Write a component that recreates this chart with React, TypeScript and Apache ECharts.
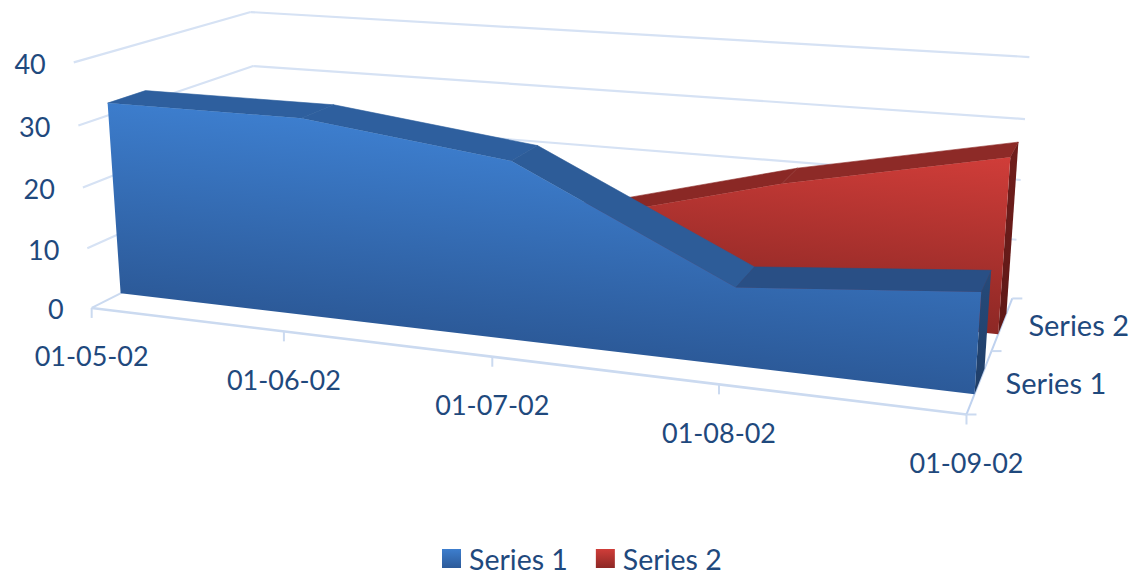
import React, { useEffect, useRef } from "react";
import * as echarts from "echarts";

const dateLabels = ["01-05-02", "01-06-02", "01-07-02", "01-08-02", "01-09-02"];
const valueTicks = [0, 10, 20, 30, 40];
const depthLabels = ["Series 1", "Series 2"];
const series1Values = [32, 32, 28, 12, 15];
const series2Values = [12, 12, 12, 21, 28];

// Camera calibration: [date fraction, value fraction, depth fraction, screen x, screen y]
const calibration = [
  [0, 0, 0, 92, 307], [0.25, 0, 0, 284, 332], [0.5, 0, 0, 492, 357], [0.75, 0, 0, 719, 385], [1, 0, 0, 967, 413],
  [1, 0, 0.5, 991, 352], [1, 0, 1, 1012, 298],
  [0, 1, 0, 74, 62], [0, 0.75, 0, 78, 126], [0, 0.5, 0, 83, 188], [0, 0.25, 0, 87, 248],
  [0, 1, 1, 251, 12], [0, 0.75, 1, 253, 66],
  [1, 1, 1, 1029, 57], [1, 0.75, 1, 1025, 119], [1, 0.5, 1, 1021, 180], [1, 0.25, 1, 1017, 240],
];

function solveCamera(): number[] {
  const n = 11;
  const A: number[][] = Array.from({ length: n }, () => new Array(n + 1).fill(0));
  const add = (r: number[], t: number) => {
    for (let i = 0; i < n; i++) {
      for (let j = 0; j < n; j++) A[i][j] += r[i] * r[j];
      A[i][n] += r[i] * t;
    }
  };
  calibration.forEach(([x, y, z, X, Y]) => {
    add([x, y, z, 1, 0, 0, 0, 0, -X * x, -X * y, -X * z], X);
    add([0, 0, 0, 0, x, y, z, 1, -Y * x, -Y * y, -Y * z], Y);
  });
  for (let c = 0; c < n; c++) {
    let p = c;
    for (let r = c + 1; r < n; r++) if (Math.abs(A[r][c]) > Math.abs(A[p][c])) p = r;
    [A[c], A[p]] = [A[p], A[c]];
    for (let r = 0; r < n; r++) {
      if (r === c) continue;
      const f = A[r][c] / A[c][c];
      for (let k = c; k <= n; k++) A[r][k] -= f * A[c][k];
    }
  }
  return A.map((row, i) => row[n] / row[i]);
}
const cam = solveCamera();
const project = (x: number, y: number, z: number): number[] => {
  const w = cam[8] * x + cam[9] * y + cam[10] * z + 1;
  return [
    (cam[0] * x + cam[1] * y + cam[2] * z + cam[3]) / w,
    (cam[4] * x + cam[5] * y + cam[6] * z + cam[7]) / w,
  ];
};

const TEXT = "#1F497D";
const GRID = "#D6E2F4";
const AXIS = "#CBDAF0";
const FONT = "Lato";
const NUMBER_SIZE = 27;
const NAME_SIZE = 29;

type Api = any;
// scale through the hidden cartesian axes (they span the full canvas)
const toFrac = (api: Api, xVal: number, yVal: number) => {
  const c = api.coord([xVal, yVal]);
  return [c[0] / api.getWidth(), 1 - c[1] / api.getHeight()];
};
const pt3 = (api: Api, xVal: number, yVal: number, z: number) => {
  const f = toFrac(api, xVal, yVal);
  return project(f[0], f[1], z);
};

const line = (a: number[], b: number[], color: string, width: number) => ({
  type: "line",
  shape: { x1: a[0], y1: a[1], x2: b[0], y2: b[1] },
  style: { stroke: color, lineWidth: width },
  silent: true,
});
const poly = (points: number[][], fill: any, stroke: any = "none") => ({
  type: "polygon",
  shape: { points },
  style: { fill, stroke, lineWidth: 0.6 },
  silent: true,
});
const label = (text: string, x: number, y: number, align: string, size: number) => ({
  type: "text",
  x,
  y,
  style: { text, fill: TEXT, font: `${size}px ${FONT}`, align, verticalAlign: "middle" },
  silent: true,
});

function renderAxes(params: any, api: Api) {
  if (params.dataIndex !== 0) return null;
  const kids: any[] = [];
  const last = dateLabels.length - 1;
  valueTicks.forEach((v) => {
    const a = pt3(api, 0, v, 0);
    const b = pt3(api, 0, v, 1);
    const c = pt3(api, last, v, 1);
    if (v > 0) {
      kids.push(line(a, b, GRID, 2.2));
      kids.push(line(b, c, GRID, 2.2));
    } else {
      kids.push(line(a, b, AXIS, 2));
    }
    kids.push(label(String(v), a[0] - 28, a[1] + 1, "right", NUMBER_SIZE));
  });
  const f0 = pt3(api, 0, 0, 0);
  const f1 = pt3(api, last, 0, 0);
  const b1 = pt3(api, last, 0, 1);
  kids.push(line(f0, f1, AXIS, 2.6));
  kids.push(line(f1, b1, "#BFD2EF", 2));
  dateLabels.forEach((d, i) => {
    const p = pt3(api, i, 0, 0);
    kids.push(line(p, [p[0], p[1] + 10], AXIS, 2));
    kids.push(label(d, p[0], p[1] + 48, "center", NUMBER_SIZE));
  });
  [0, 0.5, 1].forEach((z) => {
    const p = pt3(api, last, 0, z);
    kids.push(line(p, [p[0] + 10, p[1]], AXIS, 2));
  });
  depthLabels.forEach((s, i) => {
    const p = pt3(api, last, 0, 0.25 + 0.5 * i);
    kids.push(label(s, p[0] + 26, p[1] + 1, "left", NAME_SIZE));
  });
  return { type: "group", children: kids };
}

function makeArea(
  values: number[], zFront: number, zBack: number,
  light: string, dark: string, topColors: string[], sideTop: string, sideBottom: string
) {
  return (params: any, api: Api) => {
    if (params.dataIndex !== 0) return null;
    const last = values.length - 1;
    const front = values.map((v, i) => pt3(api, i, v, zFront));
    const back = values.map((v, i) => pt3(api, i, v, zBack));
    const floorL = pt3(api, 0, 0, zFront);
    const floorR = pt3(api, last, 0, zFront);
    const floorRB = pt3(api, last, 0, zBack);
    // gradient runs at right angles to the floor line, from floor level to the top value
    const dx = floorR[0] - floorL[0];
    const dy = floorR[1] - floorL[1];
    const len = Math.hypot(dx, dy);
    const nx = dy / len;
    const ny = -dx / len;
    const peak = front.reduce((m, p) => Math.max(m, (p[0] - floorL[0]) * nx + (p[1] - floorL[1]) * ny), 0);
    const grad = new echarts.graphic.LinearGradient(
      floorL[0], floorL[1], floorL[0] + nx * peak, floorL[1] + ny * peak,
      [{ offset: 0, color: dark }, { offset: 1, color: light }],
      true
    );
    const kids: any[] = [];
    for (let i = 0; i < last; i++) {
      kids.push(poly([front[i], front[i + 1], back[i + 1], back[i]], topColors[i], topColors[i]));
    }
    kids.push(poly(
      [front[last], back[last], floorRB, floorR],
      new echarts.graphic.LinearGradient(0, 0, 0, 1, [
        { offset: 0, color: sideTop }, { offset: 1, color: sideBottom },
      ])
    ));
    kids.push(poly([...front, floorR, floorL], grad));
    return { type: "group", children: kids };
  };
}

const legendGrad = (a: string, b: string) =>
  new echarts.graphic.LinearGradient(0, 0, 0, 1, [{ offset: 0, color: a }, { offset: 1, color: b }]);

const toData = (vals: number[]) => vals.map((v, i) => [i, v]);

export default function App() {
  const ref = useRef<HTMLDivElement>(null);
  useEffect(() => {
    const chart = echarts.init(ref.current!, null, { renderer: "svg" });
    chart.setOption({
      animation: false,
      backgroundColor: "#ffffff",
      grid: { left: 0, right: 0, top: 0, bottom: 0 },
      xAxis: { type: "value", min: 0, max: dateLabels.length - 1, show: false },
      yAxis: { type: "value", min: 0, max: 40, show: false },
      legend: {
        left: 442,
        top: 544,
        itemWidth: 19,
        itemHeight: 19,
        itemGap: 28,
        padding: 0,
        textStyle: { color: TEXT, fontFamily: FONT, fontSize: NAME_SIZE - 0.5, padding: [0, 0, 0, 3] },
        data: [
          { name: "Series 1", icon: "rect", itemStyle: { color: legendGrad("#3D7ECE", "#2C5A99") } },
          { name: "Series 2", icon: "rect", itemStyle: { color: legendGrad("#D03D39", "#8D2825") } },
        ],
      },
      series: [
        {
          type: "custom", name: "axes", data: [[0, 0]], renderItem: renderAxes, silent: true,
          encode: { x: 0, y: 1 },
        },
        {
          type: "custom", name: "Series 2", data: toData(series2Values), silent: true,
          encode: { x: 0, y: 1 },
          renderItem: makeArea(series2Values, 0.65, 0.85, "#D03D39", "#8D2825",
            ["#8A2825", "#8A2825", "#8A2825", "#8D2A27"], "#701E1C", "#5E1816"),
        },
        {
          type: "custom", name: "Series 1", data: toData(series1Values), silent: true,
          encode: { x: 0, y: 1 },
          renderItem: makeArea(series1Values, 0.15, 0.35, "#3D7ECE", "#2C5A99",
            ["#2E5F9E", "#2E5F9E", "#2D5C98", "#294F85"], "#264A7A", "#1F3E68"),
        },
      ],
    });
    return () => chart.dispose();
  }, []);
  return <div ref={ref} style={{ position: "fixed", left: 0, top: 0, width: 1132, height: 570 }} />;
}
